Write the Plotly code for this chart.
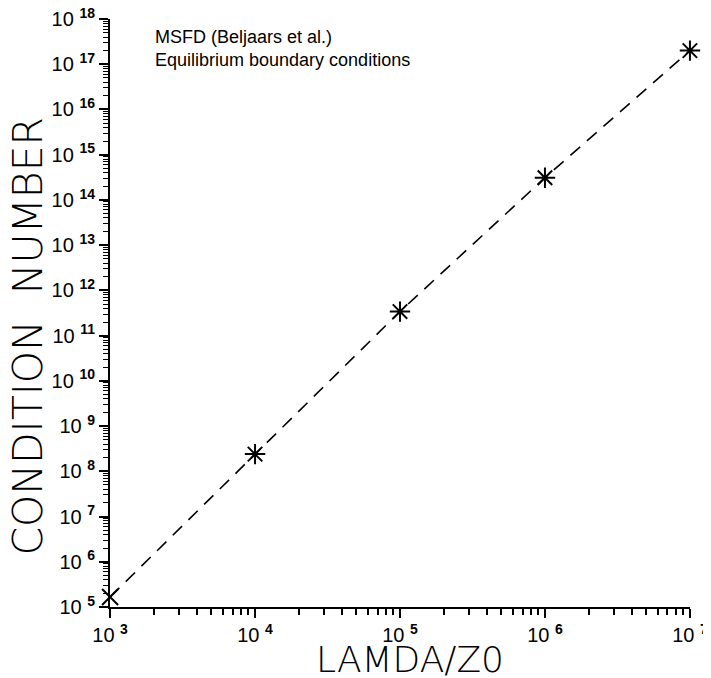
import plotly.graph_objects as go

# Data
lamda_z0 = [1e3, 1e4, 1e5, 1e6, 1e7]
condition_number = [1.66e5, 2.4e8, 3.4e11, 3.1e14, 2.0e17]

x_tick_exps = [3, 4, 5, 6, 7]
y_tick_exps = list(range(5, 19))

fig = go.Figure()
# dashed curve through all points
fig.add_trace(go.Scatter(
    x=lamda_z0, y=condition_number,
    mode="lines",
    line=dict(color="black", width=1.6, dash="13px,9px"),
    cliponaxis=False, showlegend=False,
))
# first point drawn as an X
fig.add_trace(go.Scatter(
    x=lamda_z0[:1], y=condition_number[:1],
    mode="markers",
    marker=dict(symbol="x-thin-open", size=16, color="black",
                line=dict(color="black", width=2)),
    cliponaxis=False, showlegend=False,
))
# remaining points drawn as asterisks
fig.add_trace(go.Scatter(
    x=lamda_z0[1:], y=condition_number[1:],
    mode="markers",
    marker=dict(symbol="asterisk-open", size=17, color="black",
                line=dict(color="black", width=2)),
    cliponaxis=False, showlegend=False,
))

tickfont = dict(family="Liberation Sans", size=20, color="black")

# tiny padding so points exactly on the decade edges are not dropped by float rounding
fig.update_xaxes(
    type="log", range=[2.9995, 7.0005], automargin=False, ticklabeloverflow="allow",
    tickvals=[10 ** e for e in x_tick_exps],
    ticktext=[f"10 <sup><b>{e}</b></sup>" for e in x_tick_exps],
    showline=True, linecolor="black", linewidth=2,
    ticks="outside", ticklen=9, tickwidth=2, tickcolor="black",
    minor=dict(ticks="outside", ticklen=6, tickwidth=1.5, tickcolor="black", dtick="D1", showgrid=False),
    showgrid=False, zeroline=False, mirror=False,
    tickfont=tickfont,
)
fig.update_yaxes(
    type="log", range=[5, 18], automargin=False, ticklabeloverflow="allow",
    tickvals=[10 ** e for e in y_tick_exps],
    ticktext=[f"10 <sup><b>{e}</b></sup>" for e in y_tick_exps],
    showline=True, linecolor="black", linewidth=2,
    ticks="outside", ticklen=9, tickwidth=2, tickcolor="black",
    minor=dict(ticks="outside", ticklen=5, tickwidth=1.2, tickcolor="black", dtick="D1", showgrid=False),
    showgrid=False, zeroline=False, mirror=False,
    tickfont=tickfont,
)

fig.add_annotation(
    text="MSFD (Beljaars et al.)<br>Equilibrium boundary conditions",
    xref="paper", yref="paper", x=0.074, y=0.99,
    xanchor="left", yanchor="top", align="left", showarrow=False,
    font=dict(family="Liberation Sans", size=18, color="black"),
)
fig.add_annotation(
    text="CONDITION  NUMBER",
    xref="paper", yref="paper", x=-0.143, y=0.46,
    xanchor="center", yanchor="middle", textangle=-90, showarrow=False,
    font=dict(family="DejaVu Sans", size=41, color="black", weight=200),
)
fig.add_annotation(
    text="LAMDA/Z0",
    xref="paper", yref="paper", x=0.517, y=-0.09,
    xanchor="center", yanchor="middle", showarrow=False,
    font=dict(family="DejaVu Sans", size=36, color="black", weight=200),
)

# The page adds an 8px body margin, so the figure is sized to fit the window.
fig.update_layout(
    width=703, height=670,
    margin=dict(l=102, r=21, t=11, b=71),
    plot_bgcolor="white", paper_bgcolor="white",
)

fig.write_html("out.html")
